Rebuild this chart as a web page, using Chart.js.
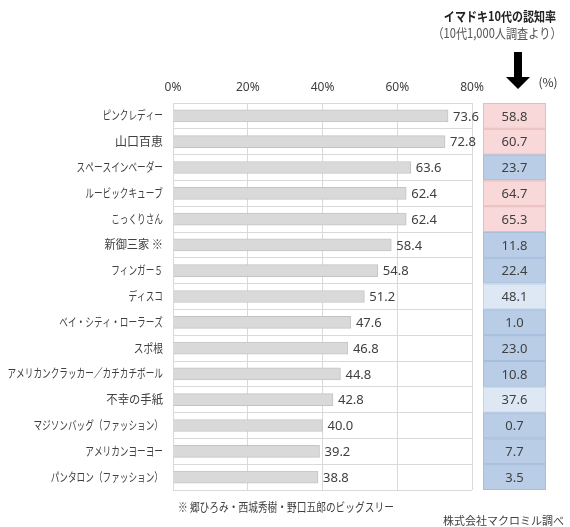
<!DOCTYPE html>
<html><head><meta charset="utf-8">
<script src="https://cdn.jsdelivr.net/npm/chart.js@4"></script>
<style>html,body{margin:0;padding:0;background:#fff;}#wrap{width:570px;height:527px;position:relative;}</style>
</head><body><div id="wrap"><canvas id="c" width="570" height="527"></canvas></div>
<script>
const categories = ["ピンクレディー","山口百恵","スペースインベーダー","ルービックキューブ","こっくりさん","新御三家 ※","フィンガー５","ディスコ","ベイ・シティ・ローラーズ","スポ根","アメリカンクラッカー／カチカチボール","不幸の手紙","マジソンバッグ（ファッション）","アメリカンヨーヨー","パンタロン（ファッション）"];
const awareness = [73.6,72.8,63.6,62.4,62.4,58.4,54.8,51.2,47.6,46.8,44.8,42.8,40.0,39.2,38.8];
const teenAwareness = [58.8,60.7,23.7,64.7,65.3,11.8,22.4,48.1,1.0,23.0,10.8,37.6,0.7,7.7,3.5];
const xTicks = [0,20,40,60,80];
const title = "イマドキ10代の認知率";
const subtitle = "（10代1,000人調査より）";
const unitLabel = "(%)";
const footnote = "※ 郷ひろみ・西城秀樹・野口五郎のビッグスリー";
const source = "株式会社マクロミル調べ";

const CJKFONT = '"Noto Sans CJK JP","Noto Sans",sans-serif';
const TEXT = '#404040';

function condensedWidth(ctx, s, f){
  let w = 0;
  for (const ch of s){
    const m = ctx.measureText(ch).width;
    if (/[\u4e00-\u9fff]/.test(ch)) w += m; else w += m*f;
  }
  return w;
}
function drawCondensed(ctx, s, x, y, align, f){
  f = f || 0.72;
  const w = condensedWidth(ctx, s, f);
  let left = x;
  if (align === 'right') left = x - w; else if (align === 'center') left = x - w/2;
  ctx.textAlign = 'left';
  ctx.fillText(s, left, y, w);
}
function cellColor(v){
  if (v >= 50) return ['#f8d8d8','#e9bcbc'];
  if (v >= 30) return ['#dde8f4','#c5d5e8'];
  return ['#b9cde6','#a6bedc'];
}

const overlay = {
  id:'overlay',
  afterDraw(chart){
    const ctx = chart.ctx;
    const xs = chart.scales.x, ys = chart.scales.y;
    ctx.save();
    // category labels
    ctx.fillStyle = TEXT;
    ctx.font = '12px ' + CJKFONT;
    ctx.textBaseline = 'middle';
    categories.forEach((c,i)=>{
      drawCondensed(ctx, c, 163, ys.getPixelForTick(i), 'right', 0.72);
    });
    // value labels
    ctx.font = '13px "Noto Sans",sans-serif';
    awareness.forEach((v,i)=>{
      ctx.textAlign = 'left';
      ctx.fillText(v.toFixed(1), xs.getPixelForValue(v) + 5, ys.getPixelForTick(i) + 1);
    });
    // right box
    const bx0 = 483, bx1 = 546;
    const half = (ys.getPixelForTick(1) - ys.getPixelForTick(0)) / 2;
    teenAwareness.forEach((v,i)=>{
      const yc = ys.getPixelForTick(i);
      const [fill, stroke] = cellColor(v);
      ctx.fillStyle = fill;
      ctx.fillRect(bx0, yc-half, bx1-bx0, half*2);
      ctx.strokeStyle = stroke; ctx.lineWidth = 1;
      ctx.strokeRect(bx0+0.5, yc-half+0.5, bx1-bx0-1, half*2-1);
      ctx.fillStyle = TEXT;
      ctx.textAlign = 'center';
      ctx.font = '13px "Noto Sans",sans-serif';
      ctx.fillText(v.toFixed(1), (bx0+bx1)/2, yc+1);
    });
    // title
    ctx.fillStyle = '#222';
    ctx.font = 'bold 13px ' + CJKFONT;
    drawCondensed(ctx, title, 500, 16, 'center', 0.75);
    ctx.fillStyle = '#555';
    ctx.font = '13px ' + CJKFONT;
    drawCondensed(ctx, subtitle, 497, 33, 'center', 0.78);
    // arrow
    ctx.fillStyle = '#000';
    ctx.beginPath();
    ctx.moveTo(514,52); ctx.lineTo(522,52); ctx.lineTo(522,77);
    ctx.lineTo(530,77); ctx.lineTo(518,89); ctx.lineTo(506,77); ctx.lineTo(514,77);
    ctx.closePath(); ctx.fill();
    ctx.fillStyle = '#333';
    ctx.font = '12px ' + CJKFONT;
    ctx.textAlign = 'center';
    ctx.fillText(unitLabel, 548, 82);
    // footnote & source
    ctx.fillStyle = TEXT;
    ctx.font = '12px ' + CJKFONT;
    drawCondensed(ctx, footnote, 178, 507, 'left', 0.68);
    ctx.font = '11px ' + CJKFONT;
    ctx.textAlign = 'right';
    ctx.fillText(source, 564, 521);
    ctx.restore();
  }
};

new Chart(document.getElementById('c'), {
  type:'bar',
  data:{ labels:categories, datasets:[{ data:awareness, backgroundColor:'#d9d9d9', borderColor:'#c4c4c4', borderWidth:1, barThickness:12 }]},
  options:{
    indexAxis:'y', responsive:false, animation:false, devicePixelRatio:1,
    layout:{ padding:{ left:0, top:0, right:98, bottom:37 } },
    plugins:{ legend:{display:false}, tooltip:{enabled:false} },
    scales:{
      x:{ position:'top', min:0, max:80,
          afterBuildTicks(s){ s.ticks = xTicks.map(v=>({value:v})); },
          afterFit(s){ s.height = 103; },
          grid:{ color:'#d9d9d9', drawTicks:false },
          border:{ color:'#d9d9d9' },
          ticks:{ padding:8, color:TEXT, font:{size:12, family:'"Noto Sans",sans-serif'}, callback:v=>v+'%' } },
      y:{ afterFit(s){ s.width = 173; },
          grid:{ color:'#d9d9d9', drawTicks:false, offset:true },
          border:{ color:'#d9d9d9' },
          ticks:{ display:false } }
    }
  },
  plugins:[overlay]
});
</script></body></html>
